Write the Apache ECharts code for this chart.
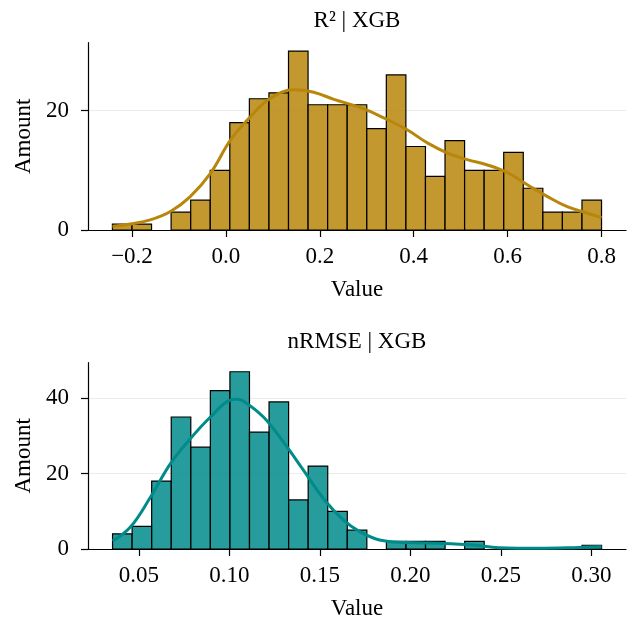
<!DOCTYPE html>
<html>
<head>
<meta charset="utf-8">
<script src="https://cdn.jsdelivr.net/npm/echarts@6/dist/echarts.min.js"></script>
<style>
  html, body { margin: 0; padding: 0; background: #ffffff; }
  #chart { width: 631px; height: 621px; }
</style>
</head>
<body>
<div id="chart"></div>
<script>
// ---- R² distribution (XGB) ----
const r2BinRange = [-0.2417, 0.8];
const r2Counts = [1, 1, 0, 3, 5, 10, 18, 22, 23, 30, 21, 21, 21, 17, 26, 14, 9, 15, 10, 10, 13, 7, 3, 3, 5];
const r2Kde = [
  [-0.2417, 0.6], [-0.204, 1.0], [-0.161, 1.7], [-0.118, 3.1], [-0.076, 5.6], [-0.033, 9.5],
  [0.010, 15.1], [0.052, 19.0], [0.095, 22.1], [0.145, 23.5], [0.187, 23.1], [0.230, 21.9],
  [0.287, 20.5], [0.336, 18.8], [0.386, 16.8], [0.429, 14.6], [0.472, 12.9], [0.514, 11.8],
  [0.557, 10.9], [0.600, 9.6], [0.642, 7.6], [0.685, 5.6], [0.727, 3.9], [0.770, 2.8], [0.800, 2.1]
];
const r2XTicks = [-0.2, 0.0, 0.2, 0.4, 0.6, 0.8];
const r2YTicks = [0, 20];

// ---- nRMSE distribution (XGB) ----
const nrmseBinRange = [0.0354, 0.3057];
const nrmseCounts = [4, 6, 18, 35, 27, 42, 47, 31, 39, 13, 22, 10, 5, 0, 2, 2, 2, 0, 2, 0, 0, 0, 0, 0, 1];
const nrmseKde = [
  [0.0354, 2.1], [0.0454, 5.9], [0.0564, 13.8], [0.0675, 22.7], [0.0785, 29.3], [0.0895, 35.0],
  [0.1005, 39.5], [0.1040, 39.7], [0.1078, 39.2], [0.1188, 35.0], [0.1298, 28.4], [0.1409, 20.9],
  [0.1519, 13.4], [0.1629, 7.7], [0.1720, 4.6], [0.1830, 2.4], [0.1980, 1.7], [0.2160, 1.5],
  [0.2345, 1.06], [0.2490, 0.35], [0.2710, 0.2], [0.2900, 0.35], [0.3057, 0.6]
];
const nrmseXTicks = [0.05, 0.10, 0.15, 0.20, 0.25, 0.30];
const nrmseYTicks = [0, 20, 40];

const FONT = '"Liberation Serif", "Times New Roman", serif';
const FS = 23;

// bin edges + count rows for the custom bar renderer
function histRows(range, counts) {
  const w = (range[1] - range[0]) / counts.length;
  return counts.map((c, i) => [range[0] + i * w, range[0] + (i + 1) * w, c]);
}

function barRenderer(fill) {
  return function (params, api) {
    if (api.value(2) <= 0) return null;
    const tl = api.coord([api.value(0), api.value(2)]);
    const br = api.coord([api.value(1), 0]);
    return {
      type: 'rect',
      shape: { x: tl[0], y: tl[1], width: br[0] - tl[0], height: br[1] - tl[1] },
      style: { fill: fill, stroke: '#000000', lineWidth: 1.2 }
    };
  };
}

function xAxis(gridIndex, min, max, ticks, digits) {
  return {
    type: 'value', gridIndex, min, max,
    name: 'Value', nameLocation: 'middle', nameGap: 48,
    nameTextStyle: { fontFamily: FONT, fontSize: FS, color: '#000' },
    axisLine: { show: true, onZero: false, lineStyle: { color: '#000', width: 1.2 } },
    axisTick: { show: true, length: 7, inside: false, customValues: ticks, lineStyle: { color: '#000', width: 1.2 } },
    axisLabel: {
      customValues: ticks, margin: 15, fontFamily: FONT, fontSize: FS, color: '#000',
      formatter: v => { const s = Number(v).toFixed(digits); return v < 0 ? '\u2212' + s.slice(1) : s; }
    },
    splitLine: { show: false }
  };
}

function yAxis(gridIndex, max, ticks) {
  return {
    type: 'value', gridIndex, min: 0, max,
    name: 'Amount', nameLocation: 'middle', nameGap: 53,
    nameTextStyle: { fontFamily: FONT, fontSize: FS, color: '#000' },
    axisLine: { show: true, onZero: false, lineStyle: { color: '#000', width: 1.2 } },
    axisTick: { show: true, length: 7, inside: false, customValues: ticks, lineStyle: { color: '#000', width: 1.2 } },
    axisLabel: { customValues: ticks, margin: 19, fontFamily: FONT, fontSize: FS, color: '#000' },
    splitLine: { show: true, showMinLine: false, showMaxLine: true, lineStyle: { color: '#ebebeb', width: 1.2 } }
  };
}

const chart = echarts.init(document.getElementById('chart'), null, { renderer: 'canvas' });

chart.setOption({
  animation: false,
  backgroundColor: '#ffffff',
  grid: [
    { left: 88, top: 42.7, width: 538, height: 187.3 },
    { left: 88, top: 362.7, width: 538, height: 187 }
  ],
  xAxis: [
    xAxis(0, -0.2937, 0.8521, r2XTicks, 1),
    xAxis(1, 0.02183, 0.3192, nrmseXTicks, 2)
  ],
  yAxis: [
    yAxis(0, 31.4, r2YTicks),
    yAxis(1, 49.4, nrmseYTicks)
  ],
  graphic: [
    { type: 'text', x: 357, y: 21, style: { text: 'R\u00B2 | XGB', font: FS + 'px ' + FONT, fill: '#000', align: 'center', verticalAlign: 'middle', textAlign: 'center', textVerticalAlign: 'middle' } },
    { type: 'text', x: 357, y: 342, style: { text: 'nRMSE | XGB', font: FS + 'px ' + FONT, fill: '#000', align: 'center', verticalAlign: 'middle', textAlign: 'center', textVerticalAlign: 'middle' } }
  ],
  series: [
    {
      type: 'custom', xAxisIndex: 0, yAxisIndex: 0,
      data: histRows(r2BinRange, r2Counts),
      encode: { x: [0, 1], y: 2 },
      renderItem: barRenderer('rgba(184,134,11,0.85)')
    },
    {
      type: 'line', xAxisIndex: 0, yAxisIndex: 0,
      data: r2Kde, smooth: 0.4, showSymbol: false, symbol: 'none',
      lineStyle: { color: '#b8860b', width: 3 }, z: 5
    },
    {
      type: 'custom', xAxisIndex: 1, yAxisIndex: 1,
      data: histRows(nrmseBinRange, nrmseCounts),
      encode: { x: [0, 1], y: 2 },
      renderItem: barRenderer('rgba(0,139,139,0.85)')
    },
    {
      type: 'line', xAxisIndex: 1, yAxisIndex: 1,
      data: nrmseKde, smooth: 0.4, showSymbol: false, symbol: 'none',
      lineStyle: { color: '#008b8b', width: 3 }, z: 5
    }
  ]
});
</script>
</body>
</html>
